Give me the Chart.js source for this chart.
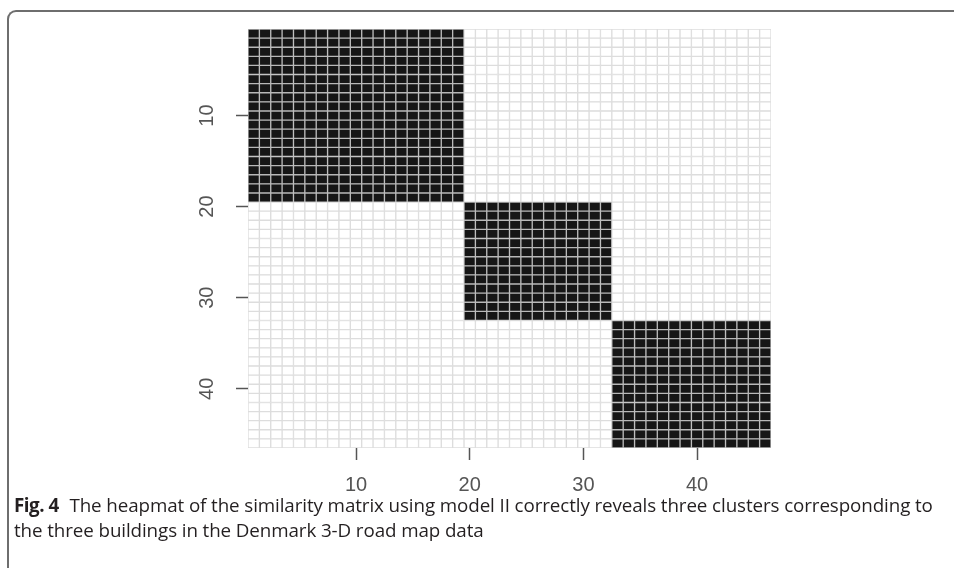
<!DOCTYPE html>
<html>
<head>
<meta charset="utf-8">
<script src="https://cdn.jsdelivr.net/npm/chart.js@4/dist/chart.umd.min.js"></script>
<style>
  html, body { margin: 0; padding: 0; background: #fff; }
  #wrap { position: relative; width: 954px; height: 568px; overflow: hidden; }
  #frame {
    position: absolute; left: 7px; top: 10px; width: 1000px; height: 700px;
    border-left: 2px solid #6e6e6e; border-top: 2px solid #6e6e6e;
    border-top-left-radius: 9px;
  }
  #heat { position: absolute; left: 0; top: 0; }
  #caption {
    position: absolute; left: 14px; top: 493px; width: 940px; white-space: nowrap;
    font-family: "Open Sans", sans-serif; font-size: 18.8px; line-height: 25px;
    color: #231f20; letter-spacing: -0.1px;
  }
  #caption b { font-weight: 700; margin-right: 6px; letter-spacing: -0.5px; }
</style>
</head>
<body>
<div id="wrap">
  <div id="frame"></div>
  <canvas id="heat" width="954" height="568"></canvas>
  <div id="caption"><b>Fig. 4</b> The heapmat of the similarity matrix using model II correctly reveals three clusters corresponding to<br>the three buildings in the Denmark 3-D road map data</div>
</div>
<script>
// Cluster sizes (rows/cols 1-19, 20-32, 33-46)
var clusterSizes = [19, 13, 14];
var xTicks = [10, 20, 30, 40];
var yTicks = [10, 20, 30, 40];

// cluster label for each item 1..n
var clusterOf = [];
clusterSizes.forEach(function(size, k) {
    for (var i = 0; i < size; i++) clusterOf.push(k);
});
var n = clusterOf.length;

// similarity matrix cells: 1 if same cluster, else 0
var cells = [];
for (var r = 1; r <= n; r++) {
    for (var c = 1; c <= n; c++) {
        cells.push({ x: c, y: [r - 0.5, r + 0.5], v: clusterOf[r - 1] === clusterOf[c - 1] ? 1 : 0 });
    }
}

// y tick labels are drawn rotated, like R does
var rotatedYLabels = {
    id: 'rotatedYLabels',
    afterDraw: function(chart) {
        var ctx = chart.ctx;
        var yScale = chart.scales.y;
        ctx.save();
        ctx.fillStyle = '#555';
        ctx.font = '20px "Liberation Sans", Arial, sans-serif';
        ctx.textAlign = 'center';
        ctx.textBaseline = 'middle';
        yTicks.forEach(function(v) {
            ctx.save();
            ctx.translate(207, yScale.getPixelForValue(v));
            ctx.rotate(-Math.PI / 2);
            ctx.fillText(String(v), 0, 0);
            ctx.restore();
        });
        ctx.restore();
    }
};

var ctx = document.getElementById('heat').getContext('2d');
var heatChart = new Chart(ctx, {
    type: 'bar',
    data: {
        datasets: [{
            data: cells,
            backgroundColor: function(c) { return c.raw && c.raw.v ? '#161616' : '#ffffff'; },
            borderColor: function(c) { return c.raw && c.raw.v ? '#b9b9b9' : '#dddddd'; },
            borderWidth: 1,
            borderSkipped: false,
            barPercentage: 1,
            categoryPercentage: 1
        }]
    },
    options: {
        responsive: false,
        animation: false,
        events: [],
        layout: { padding: { left: 0, top: 29, right: 183, bottom: 0 } },
        plugins: {
            legend: { display: false },
            tooltip: { enabled: false }
        },
        scales: {
            x: {
                type: 'linear',
                offset: false,
                min: 0.5,
                max: 46.5,
                afterBuildTicks: function(s) { s.ticks = xTicks.map(function(v) { return { value: v }; }); },
                afterFit: function(s) { s.height = 120; },
                border: { display: false },
                grid: { offset: false, drawOnChartArea: false, tickLength: 12, tickColor: '#555', tickWidth: 1.5 },
                ticks: {
                    color: '#555',
                    padding: 13,
                    maxRotation: 0,
                    font: { family: '"Liberation Sans", Arial, sans-serif', size: 20 }
                }
            },
            y: {
                type: 'linear',
                reverse: true,
                min: 0.5,
                max: 46.5,
                afterBuildTicks: function(s) { s.ticks = yTicks.map(function(v) { return { value: v }; }); },
                afterFit: function(s) { s.width = 248; },
                border: { display: false },
                grid: { offset: false, drawOnChartArea: false, tickLength: 12, tickColor: '#555', tickWidth: 1.5 },
                ticks: { display: false }
            }
        }
    },
    plugins: [rotatedYLabels]
});
</script>
</body>
</html>
